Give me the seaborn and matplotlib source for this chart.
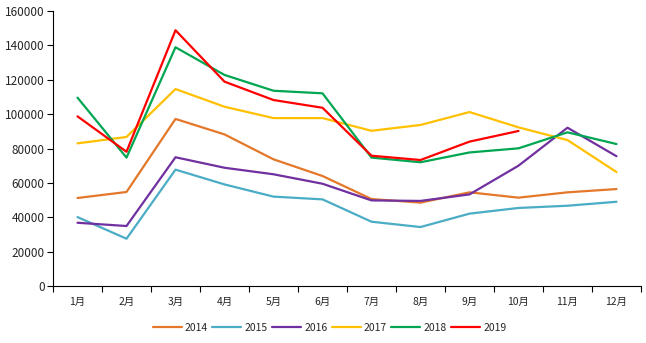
import numpy as np
import pandas as pd
import matplotlib
matplotlib.use("Agg")
import matplotlib.pyplot as plt
import seaborn as sns
from matplotlib.ticker import FixedLocator

months = ["1月", "2月", "3月", "4月", "5月", "6月", "7月", "8月", "9月", "10月", "11月", "12月"]
years = ["2014", "2015", "2016", "2017", "2018", "2019"]
v2014 = [51200, 54700, 97200, 88200, 73700, 64000, 50600, 48500, 54500, 51400, 54500, 56400]
v2015 = [40100, 27500, 67700, 59100, 52000, 50400, 37400, 34300, 42100, 45400, 46700, 49000]
v2016 = [36800, 34900, 74900, 68800, 65000, 59500, 49800, 49500, 53300, 70000, 92100, 75500]
v2017 = [83000, 86700, 114600, 104300, 97700, 97700, 90300, 93700, 101200, 92300, 84900, 66300]
v2018 = [109600, 74700, 138900, 122800, 113600, 112100, 74700, 72000, 77700, 80100, 89400, 82600]
v2019 = [98700, 78100, 148800, 118900, 108200, 103700, 75800, 73300, 84000, 90200]
series = [v2014, v2015, v2016, v2017, v2018, v2019]
colors = ["#E4782A", "#4BACC6", "#7030A0", "#FFC000", "#00A651", "#FF0000"]

rows = []
for y, vals in zip(years, series):
    for i, v in enumerate(vals):
        rows.append({"month": i, "year": y, "value": v})
df = pd.DataFrame(rows)

sns.set_theme(style="white")
plt.rcParams['font.family'] = ['Noto Sans CJK SC', 'DejaVu Sans']

fig = plt.figure(figsize=(6.46, 3.43), dpi=100)
ax = fig.add_axes([53/646, 57/343, 588/646, 275/343])
sns.lineplot(data=df, x="month", y="value", hue="year", hue_order=years,
             palette=colors, linewidth=1.6, ax=ax, legend=True)

ax.set_xlim(-0.5, 11.5)
ax.set_ylim(0, 160000)
ax.set_yticks(np.arange(0, 160001, 20000))
ax.set_yticklabels([str(int(t)) for t in np.arange(0, 160001, 20000)], fontsize=8.5)
ax.set_xticks(range(12))
ax.set_xticklabels(months, fontsize=7.5)
ax.xaxis.set_minor_locator(FixedLocator(np.arange(-0.5, 12, 1)))
ax.tick_params(axis='x', which='major', length=0, pad=8)
ax.tick_params(axis='x', which='minor', length=4, width=0.8, color='black', direction='out', bottom=True)
ax.tick_params(axis='y', which='major', length=4, width=0.8, color='black', direction='out', left=True, pad=2)
for s in ["top", "right"]:
    ax.spines[s].set_visible(False)
for s in ["left", "bottom"]:
    ax.spines[s].set_color("black")
    ax.spines[s].set_linewidth(0.8)
ax.set_xlabel("")
ax.set_ylabel("")

h, l = ax.get_legend_handles_labels()
ax.legend_.remove()
fig.legend(h, l, loc="center", bbox_to_anchor=(0.51, 15/343), ncol=6, frameon=False,
           fontsize=7.5, handlelength=2.8, handletextpad=0.3, columnspacing=0.4)

fig.savefig("out.png", dpi=100)
